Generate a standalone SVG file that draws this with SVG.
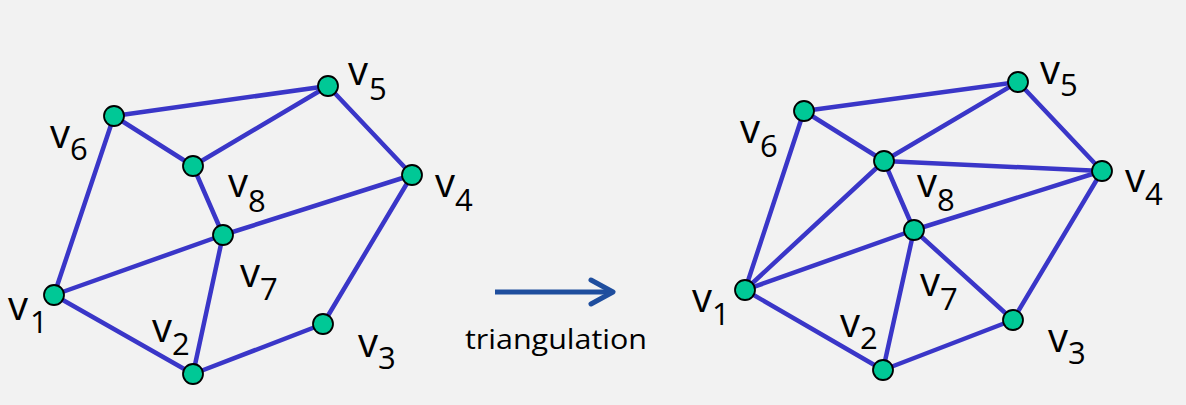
<svg xmlns="http://www.w3.org/2000/svg" width="1186" height="405" viewBox="0 0 1186 405">
<style>
.e{stroke:#3a36c8;stroke-width:4.5;fill:none;stroke-linecap:round}
.n{fill:#00c896;stroke:#000;stroke-width:1.8}
.v{font-family:"Open Sans","Liberation Sans",sans-serif;font-size:40px;fill:#000}
.s{font-size:31px}
.t{font-family:"Open Sans","Liberation Sans",sans-serif;font-size:27px;fill:#000}
</style>
<rect width="1186" height="405" fill="#f2f2f2"/>
<g id="edges-left">
<line class="e" x1="114" y1="116" x2="328" y2="86"/>
<line class="e" x1="114" y1="116" x2="193" y2="166"/>
<line class="e" x1="193" y1="166" x2="328" y2="86"/>
<line class="e" x1="193" y1="166" x2="223" y2="235"/>
<line class="e" x1="114" y1="116" x2="54" y2="295"/>
<line class="e" x1="54" y1="295" x2="223" y2="235"/>
<line class="e" x1="223" y1="235" x2="412" y2="175"/>
<line class="e" x1="328" y1="86" x2="412" y2="175"/>
<line class="e" x1="412" y1="175" x2="323" y2="324"/>
<line class="e" x1="323" y1="324" x2="193" y2="374"/>
<line class="e" x1="193" y1="374" x2="223" y2="235"/>
<line class="e" x1="54" y1="295" x2="193" y2="374"/>
</g>
<g id="edges-right">
<line class="e" x1="804" y1="111" x2="1018" y2="82"/>
<line class="e" x1="804" y1="111" x2="884" y2="161"/>
<line class="e" x1="884" y1="161" x2="1018" y2="82"/>
<line class="e" x1="884" y1="161" x2="1102" y2="171"/>
<line class="e" x1="1018" y1="82" x2="1102" y2="171"/>
<line class="e" x1="884" y1="161" x2="914" y2="230"/>
<line class="e" x1="884" y1="161" x2="745" y2="290"/>
<line class="e" x1="804" y1="111" x2="745" y2="290"/>
<line class="e" x1="745" y1="290" x2="914" y2="230"/>
<line class="e" x1="914" y1="230" x2="1102" y2="171"/>
<line class="e" x1="745" y1="290" x2="883" y2="370"/>
<line class="e" x1="883" y1="370" x2="914" y2="230"/>
<line class="e" x1="914" y1="230" x2="1013" y2="320"/>
<line class="e" x1="883" y1="370" x2="1013" y2="320"/>
<line class="e" x1="1013" y1="320" x2="1102" y2="171"/>
</g>
<g id="arrow">
<line x1="495" y1="292" x2="612" y2="292" stroke="#1f4e9e" stroke-width="5"/>
<polyline points="591,280 613,292 591,304" fill="none" stroke="#1f4e9e" stroke-width="5" stroke-linecap="round" stroke-linejoin="round"/>
<text class="t" x="465" y="349" textLength="182" lengthAdjust="spacingAndGlyphs">triangulation</text>
</g>
<g id="L-v1"><circle class="n" cx="54" cy="295" r="10"/><text class="v" x="8" y="320">v<tspan class="s" x="30" y="333">1</tspan></text></g>
<g id="L-v2"><circle class="n" cx="193" cy="374" r="10"/><text class="v" x="152" y="342">v<tspan class="s" x="172" y="355">2</tspan></text></g>
<g id="L-v3"><circle class="n" cx="323" cy="324" r="10"/><text class="v" x="358" y="357">v<tspan class="s" x="378" y="369">3</tspan></text></g>
<g id="L-v4"><circle class="n" cx="412" cy="175" r="10"/><text class="v" x="435" y="197">v<tspan class="s" x="455" y="211">4</tspan></text></g>
<g id="L-v5"><circle class="n" cx="328" cy="86" r="10"/><text class="v" x="348" y="85">v<tspan class="s" x="369" y="100">5</tspan></text></g>
<g id="L-v6"><circle class="n" cx="114" cy="116" r="10"/><text class="v" x="50" y="148">v<tspan class="s" x="70" y="160">6</tspan></text></g>
<g id="L-v7"><circle class="n" cx="223" cy="235" r="10"/><text class="v" x="240" y="287">v<tspan class="s" x="260" y="300">7</tspan></text></g>
<g id="L-v8"><circle class="n" cx="193" cy="166" r="10"/><text class="v" x="228" y="197">v<tspan class="s" x="248" y="212">8</tspan></text></g>
<g id="R-v1"><circle class="n" cx="745" cy="290" r="10"/><text class="v" x="692" y="312">v<tspan class="s" x="712" y="325">1</tspan></text></g>
<g id="R-v2"><circle class="n" cx="883" cy="370" r="10"/><text class="v" x="840" y="337">v<tspan class="s" x="860" y="349">2</tspan></text></g>
<g id="R-v3"><circle class="n" cx="1013" cy="320" r="10"/><text class="v" x="1048" y="352">v<tspan class="s" x="1068" y="364">3</tspan></text></g>
<g id="R-v4"><circle class="n" cx="1102" cy="171" r="10"/><text class="v" x="1125" y="192">v<tspan class="s" x="1145" y="205">4</tspan></text></g>
<g id="R-v5"><circle class="n" cx="1018" cy="82" r="10"/><text class="v" x="1040" y="84">v<tspan class="s" x="1060" y="96">5</tspan></text></g>
<g id="R-v6"><circle class="n" cx="804" cy="111" r="10"/><text class="v" x="740" y="143">v<tspan class="s" x="760" y="157">6</tspan></text></g>
<g id="R-v7"><circle class="n" cx="914" cy="230" r="10"/><text class="v" x="920" y="296">v<tspan class="s" x="940" y="310">7</tspan></text></g>
<g id="R-v8"><circle class="n" cx="884" cy="161" r="10"/><text class="v" x="917" y="197">v<tspan class="s" x="937" y="211">8</tspan></text></g>
</svg>
